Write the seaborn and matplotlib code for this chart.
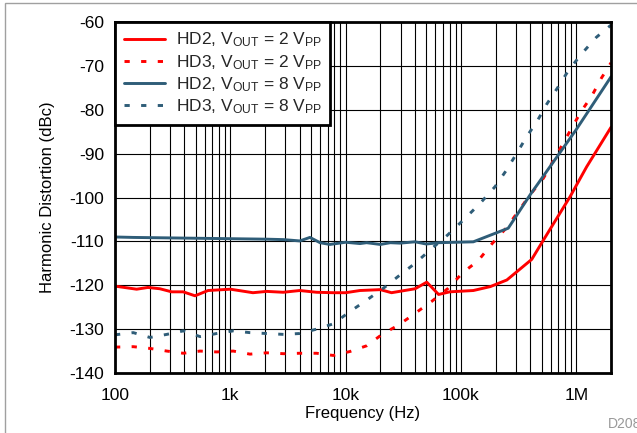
import matplotlib
matplotlib.use("Agg")
import matplotlib.pyplot as plt
import numpy as np
import pandas as pd
import seaborn as sns
from matplotlib.patches import Rectangle
from matplotlib.ticker import LogLocator, NullFormatter

# ---- data: harmonic distortion (dBc) vs frequency (Hz) ----
hd2_2v_freq = [100, 154, 193, 245, 310, 390, 494, 641, 1000, 1570, 2070, 2870,
               4000, 5600, 7800, 10000, 13300, 20000, 25000, 40000, 50500,
               64000, 80000, 128000, 180000, 250000, 411000, 519000, 884000,
               1230000, 2000000]
hd2_2v = [-120.2, -120.9, -120.5, -120.8, -121.5, -121.5, -122.4, -121.2, -120.9,
          -121.7, -121.4, -121.6, -121.2, -121.6, -121.7, -121.7, -121.2, -121.0,
          -121.7, -120.8, -119.3, -122.1, -121.5, -121.2, -120.3, -118.8, -114.1,
          -109.7, -99.8, -93.0, -84.0]

hd3_2v_freq = [100, 144, 201, 281, 391, 546, 762, 1060, 1480, 2070, 2890, 4000,
               5600, 7800, 10900, 15200, 21200, 28700, 40000, 55600, 77400,
               104000, 141000, 185000, 250000, 397000, 519000, 1100000, 1360000,
               1650000, 2000000]
hd3_2v = [-134.1, -134.0, -134.4, -135.0, -135.5, -135.0, -135.2, -135.0, -135.7,
          -135.4, -135.6, -135.5, -135.5, -136.0, -135.1, -133.8, -131.0, -129.1,
          -126.4, -123.7, -120.7, -117.1, -114.4, -110.6, -106.8, -99.4, -95.6,
          -80.4, -76.9, -72.8, -69.3]

hd2_8v_freq = [100, 144, 281, 546, 1060, 2070, 2900, 4000, 4900, 6000, 7300,
               10000, 13300, 15200, 20000, 24400, 29600, 40000, 50000, 64000,
               128000, 257000, 400000, 1000000, 2000000]
hd2_8v = [-109.0, -109.1, -109.2, -109.3, -109.4, -109.5, -109.6, -109.9, -109.1,
          -110.3, -110.7, -110.2, -110.5, -110.3, -110.7, -110.3, -110.4, -110.1,
          -110.6, -110.3, -110.1, -107.0, -99.3, -84.5, -72.5]

hd3_8v_freq = [100, 144, 201, 281, 391, 546, 762, 1060, 1480, 2070, 2890, 4000,
               5600, 7800, 10900, 15200, 21200, 28500, 40000, 56000, 77000,
               109000, 147000, 198000, 246000, 305000, 372000, 460000, 555000,
               692000, 853000, 1100000, 1490000, 2000000]
hd3_8v = [-131.3, -130.8, -131.9, -131.2, -130.4, -131.7, -131.0, -130.4, -130.8,
          -131.0, -131.2, -131.0, -130.0, -128.8, -126.0, -123.4, -120.7, -118.0,
          -115.0, -111.6, -108.5, -104.7, -101.3, -97.5, -93.9, -89.9, -86.1,
          -82.5, -78.7, -74.9, -71.1, -67.4, -63.5, -60.7]

series_labels = [
    r"HD2, V$_\mathregular{OUT}$ = 2 V$_\mathregular{PP}$",
    r"HD3, V$_\mathregular{OUT}$ = 2 V$_\mathregular{PP}$",
    r"HD2, V$_\mathregular{OUT}$ = 8 V$_\mathregular{PP}$",
    r"HD3, V$_\mathregular{OUT}$ = 8 V$_\mathregular{PP}$",
]
x_tick_values = [100, 1e3, 1e4, 1e5, 1e6]
x_tick_labels = ["100", "1k", "10k", "100k", "1M"]
y_tick_values = list(range(-140, -59, 10))

# ---- styling ----
sns.set_theme(style="white")
plt.rcParams["font.family"] = ["Liberation Sans", "DejaVu Sans"]
plt.rcParams["mathtext.fontset"] = "custom"
plt.rcParams["mathtext.rm"] = "Liberation Sans"
plt.rcParams["mathtext.it"] = "Liberation Sans:italic"

RED = "#ff0000"
BLUE = "#2f5d78"
DASH = (0, (1.8, 3.9))

fig = plt.figure(figsize=(6.37, 4.33), dpi=100)
ax = fig.add_axes([115 / 637, 1 - 373 / 433, 496 / 637, 351 / 433])

series = [
    (hd2_2v_freq, hd2_2v, RED, "-"),
    (hd3_2v_freq, hd3_2v, RED, DASH),
    (hd2_8v_freq, hd2_8v, BLUE, "-"),
    (hd3_8v_freq, hd3_8v, BLUE, DASH),
]
for (f, v, c, ls), lab in zip(series, series_labels):
    df = pd.DataFrame({"freq": f, "hd": v})
    sns.lineplot(data=df, x="freq", y="hd", color=c, linestyle=ls, lw=2.1,
                 ax=ax, label=lab, estimator=None, sort=False)

ax.set_xscale("log")
ax.set_xlim(100, 2e6)
ax.set_ylim(-140, -60)
ax.set_xticks(x_tick_values, x_tick_labels)
ax.xaxis.set_minor_locator(LogLocator(base=10, subs=np.arange(2, 10)))
ax.xaxis.set_minor_formatter(NullFormatter())
ax.set_yticks(y_tick_values, [str(t) for t in y_tick_values])

ax.set_axisbelow(True)
ax.grid(which="both", axis="x", color="black", lw=0.8)
ax.grid(which="major", axis="y", color="black", lw=0.8)

ax.tick_params(axis="both", which="both", direction="in", length=3,
               color="black", labelsize=12.5, labelcolor="black")
ax.tick_params(axis="x", which="major", pad=11)
ax.tick_params(axis="y", which="major", pad=8)

for sp in ax.spines.values():
    sp.set_color("black")
    sp.set_linewidth(2)

ax.set_xlabel("Frequency (Hz)", fontsize=12, color="black", labelpad=2)
ax.set_ylabel("Harmonic Distortion (dBc)", fontsize=12, color="black", labelpad=10)

leg = ax.legend(loc="upper left", bbox_to_anchor=(0, 1), borderaxespad=0,
                fontsize=12.5, handlelength=2.4, handletextpad=0.6,
                labelspacing=0.2, borderpad=0.5, fancybox=False,
                framealpha=1, edgecolor="black")
leg.get_frame().set_linewidth(2)

# outer frame and drawing id
fig.patches.append(Rectangle((5 / 637, -0.1), 1.2, 1 - 3 / 433 + 0.1,
                             transform=fig.transFigure, fill=False,
                             edgecolor="#a0a0a0", lw=1))
fig.text(608 / 637, 1 - 424 / 433, "D208", color="#999999", fontsize=10,
         ha="left", va="center")

fig.savefig("out.png", dpi=100)
